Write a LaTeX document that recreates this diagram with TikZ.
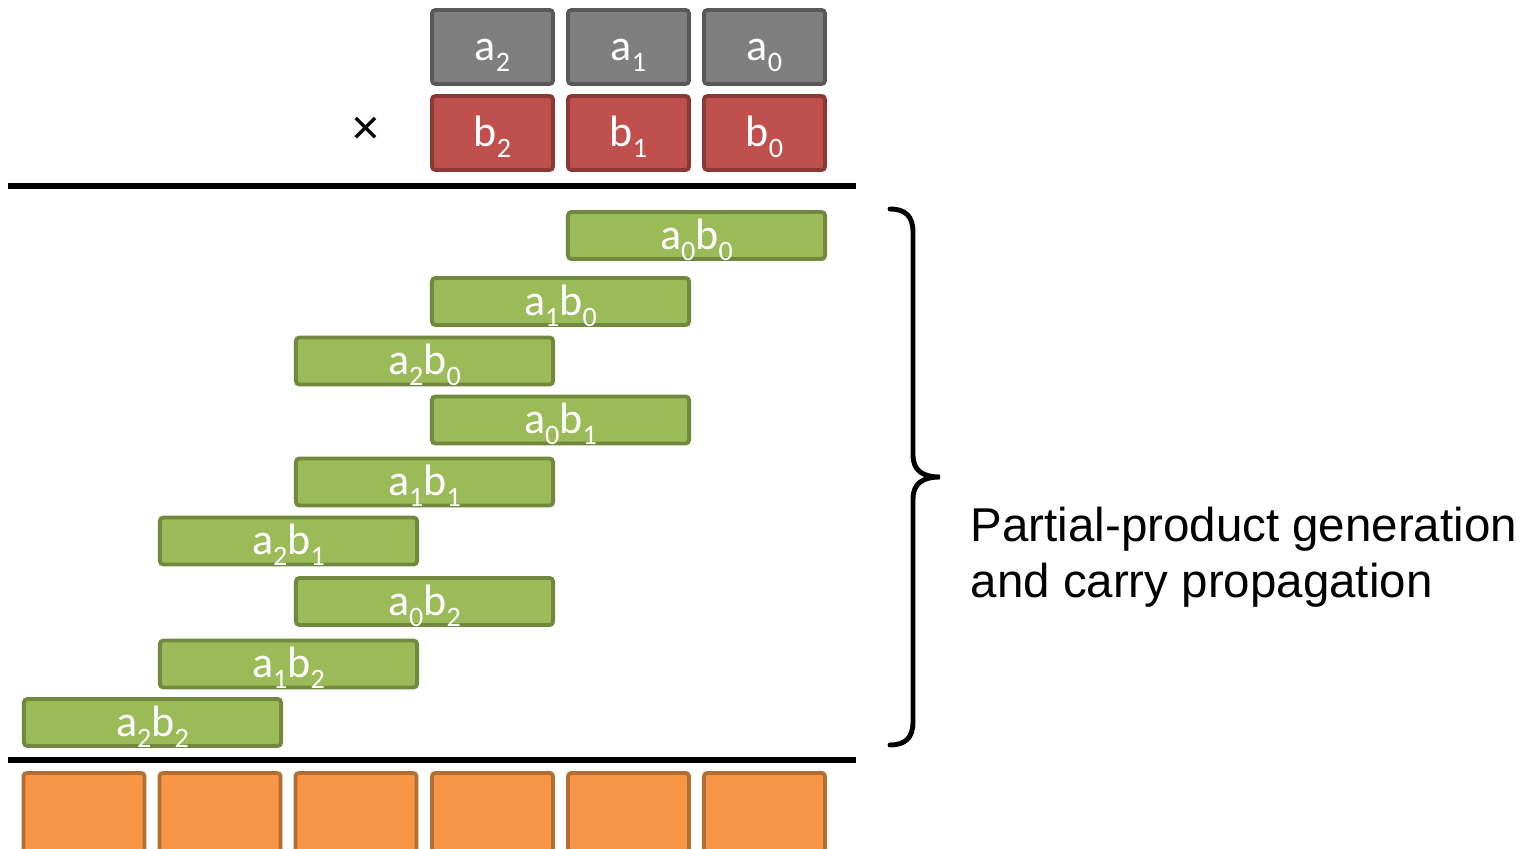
\documentclass[tikz,border=0pt]{standalone}
\usepackage{fontspec}
\setmainfont{Carlito}
\newfontfamily\arialfont{Liberation Sans}
\usepackage{tikz}

\definecolor{opgray}{HTML}{7F7F7F}
\definecolor{opgrayline}{HTML}{595959}
\definecolor{opred}{HTML}{C0504D}
\definecolor{opredline}{HTML}{8C3836}
\definecolor{ppgreen}{HTML}{9BBB59}
\definecolor{ppgreenline}{HTML}{71893F}
\definecolor{resorange}{HTML}{F79646}
\definecolor{resorangeline}{HTML}{B66D31}

% lowered index digit, as in a_2
\newcommand\ix[1]{\raisebox{-0.11cm}{\fontsize{8}{8}\selectfont #1}}

\begin{document}
\begin{tikzpicture}[
  x=0.01cm, y=-0.01cm,
  digit/.style={rectangle, line width=1.1pt, rounded corners=1pt, inner sep=0pt, outer sep=0pt, text=white, font=\fontsize{12.5}{15}\selectfont, text height=0.27cm, text depth=0pt},
  opa/.style={digit, draw=opgrayline, fill=opgray, minimum width=1.21cm, minimum height=0.74cm},
  opb/.style={digit, draw=opredline, fill=opred, minimum width=1.21cm, minimum height=0.74cm},
  partial/.style={digit, draw=ppgreenline, fill=ppgreen, minimum width=2.57cm, minimum height=0.47cm},
  result/.style={digit, draw=resorangeline, fill=resorange, minimum width=1.21cm, minimum height=1.06cm},
  rule/.style={line width=1.5pt},
  bracket/.style={line width=1.4pt, line cap=round},
  note/.style={font=\arialfont\fontsize{13.5}{15.8}\selectfont, align=left, inner sep=0pt}
]
\clip (0,0) rectangle (1530,849);

% operands
\node[opa] (a2) at (492.5,47) {a\ix{2}};
\node[opa] (a1) at (628.5,47) {a\ix{1}};
\node[opa] (a0) at (764.5,47) {a\ix{0}};
\node[opb] (b2) at (492.5,133) {b\ix{2}};
\node[opb] (b1) at (628.5,133) {b\ix{1}};
\node[opb] (b0) at (764.5,133) {b\ix{0}};
\node[font=\arialfont\fontsize{14}{14}\selectfont] (times) at (366,131) {×};

\draw[rule] (8,186) -- (856,186);

% partial products
\node[partial] (p00) at (696.5,235.5) {a\ix{0}b\ix{0}};
\node[partial] (p10) at (560.5,301.5) {a\ix{1}b\ix{0}};
\node[partial] (p20) at (424.5,361) {a\ix{2}b\ix{0}};
\node[partial] (p01) at (560.5,420) {a\ix{0}b\ix{1}};
\node[partial] (p11) at (424.5,482) {a\ix{1}b\ix{1}};
\node[partial] (p21) at (288.5,541) {a\ix{2}b\ix{1}};
\node[partial] (p02) at (424.5,601.5) {a\ix{0}b\ix{2}};
\node[partial] (p12) at (288.5,664) {a\ix{1}b\ix{2}};
\node[partial] (p22) at (152.5,722.5) {a\ix{2}b\ix{2}};

\draw[rule] (8,760) -- (856,760);

% product digits
\node[result] (r5) at (84,826) {};
\node[result] (r4) at (220,826) {};
\node[result] (r3) at (356,826) {};
\node[result] (r2) at (492.5,826) {};
\node[result] (r1) at (628.5,826) {};
\node[result] (r0) at (764.5,826) {};

% brace and its note
\draw[bracket] (890,209) .. controls (905,209) and (913,216) .. (913,232)
  -- (913,455) .. controls (913,470) and (922,477) .. (940,477)
  .. controls (922,477) and (913,484) .. (913,499)
  -- (913,722) .. controls (913,738) and (905,745) .. (890,745);
\node[note, anchor=base west] (pp) at (970,597) {Partial-product generation\\and carry propagation};

\end{tikzpicture}
\end{document}
